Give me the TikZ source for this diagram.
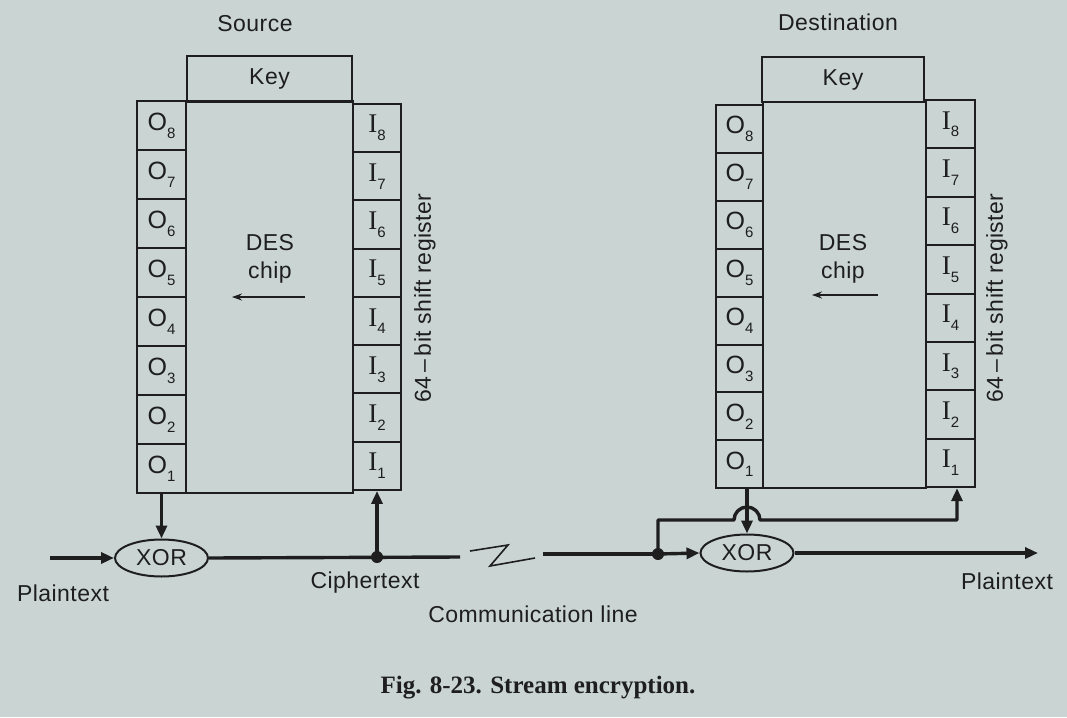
\documentclass[tikz,border=0pt]{standalone}
\usepackage{fontspec}
\setmainfont[LetterSpace=2]{Liberation Sans}
\newfontfamily\capfont{Liberation Serif}
\newfontfamily\ifont{Liberation Serif}
\usetikzlibrary{shapes.geometric,arrows.meta}
\definecolor{paper}{RGB}{201,212,211}
\definecolor{ink}{RGB}{30,30,30}
\newcommand\subs[1]{\raisebox{-0.34em}{\fontsize{15}{15}\selectfont #1}}
\newcommand\Olab[1]{{\fontsize{25}{26}\selectfont O}\subs{#1}}
\newcommand\Ilab[1]{{\ifont\fontsize{27}{28}\selectfont I}\subs{#1}}
\begin{document}
\begin{tikzpicture}[x=1pt,y=-1pt,
  txt/.style={font=\fontsize{23}{28}\selectfont, text=ink},
  cell/.style={draw=ink, line width=2pt, inner sep=0pt, txt},
  box/.style={draw=ink, line width=2pt},
  conn/.style={draw=ink, line width=3.4pt},
  arr/.style={conn, -{Triangle[length=13pt,width=11pt]}},
  thinarr/.style={draw=ink, line width=1.2pt, -{Stealth[length=10pt,width=7pt]}},
  xorbox/.style={ellipse, draw=ink, line width=2pt, minimum width=93pt, minimum height=37pt, inner sep=0pt, txt},
  dotn/.style={circle, fill=ink, minimum size=12pt, inner sep=0pt},
]
\fill[paper] (0,0) rectangle (1067,717);

% ---------------- Source ----------------
\node[txt] (srclab) at (255,24) {Source};
\node[box, minimum width=165pt, minimum height=45pt, inner sep=0pt, txt] (skey) at (269.5,79) {Key};
\node[box, minimum width=167pt, minimum height=392pt, inner sep=0pt] (schip) at (269.5,297) {};
\foreach \k in {1,...,8} {
  \node[cell, minimum width=49pt, minimum height=49pt] (sO\k) at (161.5,{125.5+49*(8-\k)}) {\Olab{\k}};
  \node[cell, minimum width=48pt, minimum height=48.25pt] (sI\k) at (377,{128.1+48.25*(8-\k)}) {\Ilab{\k}};
}
\node[txt, align=center] (sdes) at (270,259) {DES\\chip};
\coordinate (sa1) at (305,297);
\coordinate (sa2) at (232,297);
\draw[thinarr] (sa1) -- (sa2);
\node[txt, rotate=90] (sreg) at (425,298) {64\,–\,bit shift register};

\node[xorbox] (sxor) at (161.5,558) {XOR};
\coordinate (pin) at (50,558);
\draw[arr] (pin) -- (sxor.west);
\draw[arr] (sO1.south) -- (sxor.north);
\coordinate (brL) at (460,557);
\node[dotn] (sdot) at (377,557) {};
\draw[conn] (sxor.east) -- (brL);
\draw[arr] (sdot.center) -- (sI1.south);
\node[txt] (ptl) at (63,593) {Plaintext};
\node[txt] (ctl) at (365,583) {Ciphertext};

% break symbol
\coordinate (z1) at (470,551);
\coordinate (z2) at (508,545);
\coordinate (z3) at (490,566);
\coordinate (z4) at (535,558);
\draw[ink, line width=1.6pt, line join=miter] (z1) -- (z2) -- (z3) -- (z4);
\node[txt] (comm) at (533,614) {Communication line};

% ---------------- Destination ----------------
\node[txt] (dstlab) at (838,22) {Destination};
\node[box, minimum width=162pt, minimum height=45pt, inner sep=0pt, txt] (dkey) at (843,79.5) {Key};
\node[box, minimum width=163pt, minimum height=386pt, inner sep=0pt] (dchip) at (844.5,295) {};
\foreach \k in {1,...,8} {
  \node[cell, minimum width=47pt, minimum height=47.9pt] (dO\k) at (739.5,{129+47.9*(8-\k)}) {\Olab{\k}};
  \node[cell, minimum width=49pt, minimum height=48.4pt] (dI\k) at (950.5,{124.2+48.4*(8-\k)}) {\Ilab{\k}};
}
\node[txt, align=center] (ddes) at (843,259) {DES\\chip};
\coordinate (da1) at (878,295);
\coordinate (da2) at (812,295);
\draw[thinarr] (da1) -- (da2);
\node[txt, rotate=90] (dreg) at (997,298) {64\,–\,bit shift register};

\node[xorbox] (dxor) at (747,553) {XOR};
\coordinate (brR) at (543,554);
\node[dotn] (ddot) at (658,554) {};
\draw[conn] (brR) -- (ddot.center);
\draw[arr] (ddot.center) -- (dxor.west);
\coordinate (pout) at (1038,553);
\draw[arr] (dxor.east) -- (pout);
\coordinate (fbL) at (658,520);
\coordinate (hop) at (734,520);
\coordinate (fbR) at (957,520);
\draw[arr, line join=round] (ddot.center) -- (fbL) -- (hop) arc[start angle=180, end angle=360, radius=13] -- (fbR) -- (fbR |- dI1.south);
\draw[arr] (dxor.north |- dO1.south) -- (dxor.north);
\node[txt] (ptr) at (1007,581) {Plaintext};

% caption
\node[font=\capfont\bfseries\fontsize{25}{28}\selectfont, text=ink] (cap) at (538,688) {Fig. 8-23. Stream encryption.};
\end{tikzpicture}
\end{document}
